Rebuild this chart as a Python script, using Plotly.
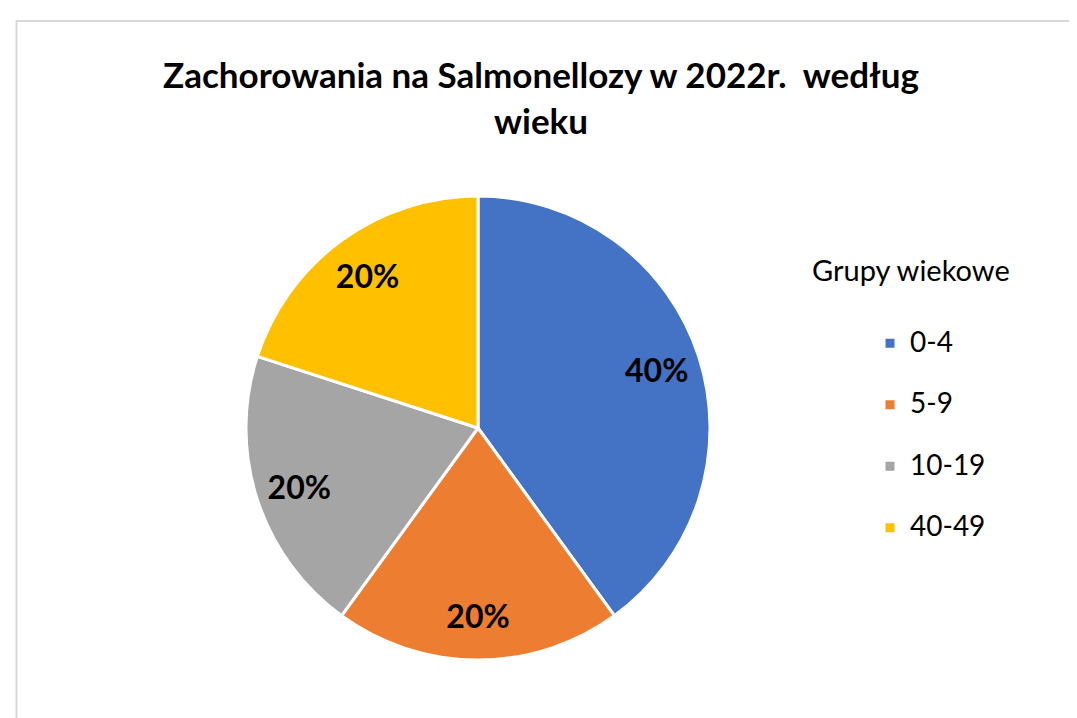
import plotly.graph_objects as go

categories = ["0-4", "5-9", "10-19", "40-49"]
values = [40, 20, 20, 20]
colors = ["#4472C4", "#ED7D31", "#A5A5A5", "#FFC000"]
title_text = "Zachorowania na Salmonellozy w 2022r.  według<br>wieku"
legend_title = "Grupy wiekowe"

W, H = 1077, 718
FONT = "Lato, 'Open Sans', sans-serif"

# legend labels: extra empty line to widen row spacing like the original
legend_labels = [f'<span style="font-size:28px">{c}</span><br> ' for c in categories]

pie_domain = dict(x=[238 / W, 702 / W], y=[1 - 652 / H, 1 - 188 / H])

# main pie: slices + legend
fig = go.Figure(go.Pie(
    labels=legend_labels,
    values=values,
    marker=dict(colors=colors, line=dict(color="white", width=3)),
    sort=False,
    direction="clockwise",
    rotation=0,
    textinfo="none",
    hoverinfo="skip",
    domain=pie_domain,
))

# transparent overlay (ring) used only to place the percentage labels near the rim
fig.add_trace(go.Pie(
    labels=categories,
    values=values,
    marker=dict(colors=["rgba(0,0,0,0)"] * len(values), line=dict(width=0)),
    sort=False,
    direction="clockwise",
    rotation=0,
    hole=0.62,
    textinfo="percent",
    texttemplate="%{percent:.0%}",
    textposition="inside",
    insidetextorientation="horizontal",
    textfont=dict(family=FONT, size=32, color="black", weight="bold"),
    hoverinfo="skip",
    showlegend=False,
    domain=pie_domain,
))

fig.update_layout(
    width=W, height=H,
    margin=dict(l=0, r=0, t=0, b=0),
    paper_bgcolor="white",
    font=dict(family=FONT, color="black"),
    title=dict(
        text=f"<b>{title_text}</b>",
        x=533 / W, xanchor="center",
        y=1 - 80 / H, yanchor="top",
        font=dict(family=FONT, size=35, color="black"),
    ),
    legend=dict(
        x=862 / W, xanchor="left",
        y=1 - 314 / H, yanchor="top",
        font=dict(family=FONT, size=22.5, color="black"),
        valign="top",
        bgcolor="rgba(0,0,0,0)",
    ),
    annotations=[dict(
        text=legend_title, xref="paper", yref="paper",
        x=903 / W, y=1 - 261 / H, xanchor="center", yanchor="middle",
        showarrow=False, font=dict(family=FONT, size=29, color="black"),
    )],
    shapes=[dict(
        type="rect", xref="paper", yref="paper",
        x0=8.5 / W, x1=1.05, y0=-0.05, y1=1 - 13 / H,
        line=dict(color="#D9D9D9", width=2), fillcolor="rgba(0,0,0,0)",
    )],
)

fig.write_html("out.html")
